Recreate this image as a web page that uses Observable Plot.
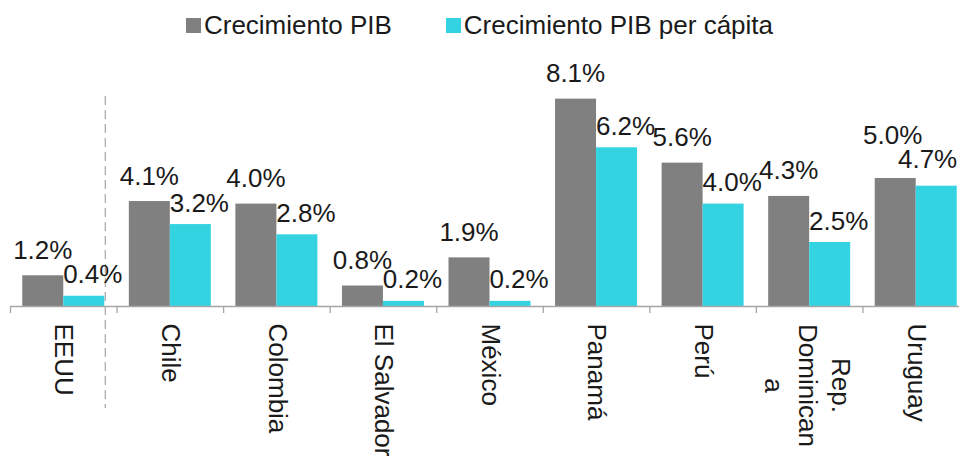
<!DOCTYPE html>
<html>
<head>
<meta charset="utf-8">
<script src="https://cdn.jsdelivr.net/npm/d3@7"></script>
<script src="https://cdn.jsdelivr.net/npm/@observablehq/plot@0.6"></script>
<style>
  html, body { margin: 0; padding: 0; background: #fff; }
  body { width: 959px; height: 458px; overflow: hidden; font-family: "Liberation Sans", Arial, sans-serif; }
  #legend { height: 50px; box-sizing: border-box; padding-top: 10px; display: flex; justify-content: center; align-items: flex-start; }
  .item { display: flex; align-items: center; height: 30px; line-height: 30px; font-size: 26px; color: #1a1a1a; }
  .item + .item { margin-left: 54px; }
  .sw { width: 15px; height: 15px; margin-right: 3px; }
  #chart svg { display: block; }
</style>
</head>
<body>
<div id="legend"></div>
<div id="chart"></div>
<script>
const countries = ["EEUU", "Chile", "Colombia", "El Salvador", "México", "Panamá", "Perú", "Rep. Dominicana", "Uruguay"];
const tickLabels = ["EEUU", "Chile", "Colombia", "El Salvador", "México", "Panamá", "Perú", "Rep.\nDominican\na", "Uruguay"];
const pibGrowth = [1.2, 4.1, 4.0, 0.8, 1.9, 8.1, 5.6, 4.3, 5.0];
const pibPcGrowth = [0.4, 3.2, 2.8, 0.2, 0.2, 6.2, 4.0, 2.5, 4.7];
const seriesNames = ["Crecimiento PIB", "Crecimiento PIB per cápita"];
const seriesColors = ["#808080", "#33d3e2"];

const pibRows = countries.map((c, i) => ({country: c, value: pibGrowth[i]}));
const pcRows = countries.map((c, i) => ({country: c, value: pibPcGrowth[i]}));
const labelRows = countries.map((c, i) => ({country: c, label: tickLabels[i]}));
const fmt = v => d3.format(".1f")(v) + "%";

// Legend
const legend = document.getElementById("legend");
seriesNames.forEach((name, i) => {
  const item = document.createElement("div");
  item.className = "item";
  const sw = document.createElement("span");
  sw.className = "sw";
  sw.style.background = seriesColors[i];
  item.appendChild(sw);
  item.appendChild(document.createTextNode(name));
  legend.appendChild(item);
});

const band = (969 - 10) / countries.length;
const half = band / 2;
const barW = 41;
const outer = half - barW;
const textColor = "#1a1a1a";
const axisColor = "#a6a6a6";
const fs = 26;
const last = countries[countries.length - 1];
const notLast = d => d.country !== last;
const isLast = d => d.country === last;

const chart = Plot.plot({
  width: 959,
  height: 408,
  marginLeft: 10,
  marginRight: -10,
  marginTop: 0,
  marginBottom: 152,
  style: {fontFamily: "Liberation Sans, Arial, sans-serif", background: "transparent", overflow: "visible"},
  x: {domain: countries, padding: 0, round: false, axis: null},
  y: {domain: [0, 10], axis: null},
  marks: [
    // bars
    Plot.barY(pibRows, {x: "country", y: "value", fill: seriesColors[0], insetLeft: outer, insetRight: half}),
    Plot.barY(pcRows, {x: "country", y: "value", fill: seriesColors[1], insetLeft: half, insetRight: outer}),
    // baseline
    Plot.ruleY([0], {stroke: axisColor, strokeWidth: 1.3}),
    // ticks at band boundaries
    Plot.axisX({tickSize: 7, dx: -half, stroke: axisColor, strokeWidth: 1.3, text: null, label: null, tickPadding: 0}),
    // dashed separator after EEUU
    Plot.ruleX([countries[0]], {dx: barW + 0.5, stroke: axisColor, strokeWidth: 1.2, strokeDasharray: "9,5", insetTop: 46, insetBottom: -102}),
    // value labels: PIB
    Plot.text(pibRows, {filter: notLast, x: "country", y: "value", text: d => fmt(d.value), dx: -barW / 2 - 0.5, dy: -17, lineAnchor: "bottom", fontSize: fs, fill: textColor}),
    Plot.text(pibRows, {filter: isLast, x: "country", y: "value", text: d => fmt(d.value), dx: -barW / 2 - 3, dy: -35, lineAnchor: "bottom", fontSize: fs, fill: textColor}),
    // value labels: PIB per cápita
    Plot.text(pcRows, {filter: notLast, x: "country", y: "value", text: d => fmt(d.value), dx: 29, dy: -13, lineAnchor: "bottom", fontSize: fs, fill: textColor}),
    Plot.text(pcRows, {filter: isLast, x: "country", y: "value", text: d => fmt(d.value), dx: barW, dy: -18, textAnchor: "end", lineAnchor: "bottom", fontSize: fs, fill: textColor}),
    // category labels (rotated)
    Plot.text(labelRows, {filter: d => !d.label.includes("\n"), x: "country", frameAnchor: "bottom", text: "label", rotate: 90, textAnchor: "start", lineAnchor: "middle", dy: 17, fontSize: fs, fill: textColor}),
    Plot.text(labelRows, {filter: d => d.label.includes("\n"), x: "country", frameAnchor: "bottom", text: "label", rotate: 90, textAnchor: "middle", lineAnchor: "middle", lineHeight: 1.29, dy: 79, fontSize: fs, fill: textColor})
  ]
});
document.getElementById("chart").appendChild(chart);
</script>
</body>
</html>
